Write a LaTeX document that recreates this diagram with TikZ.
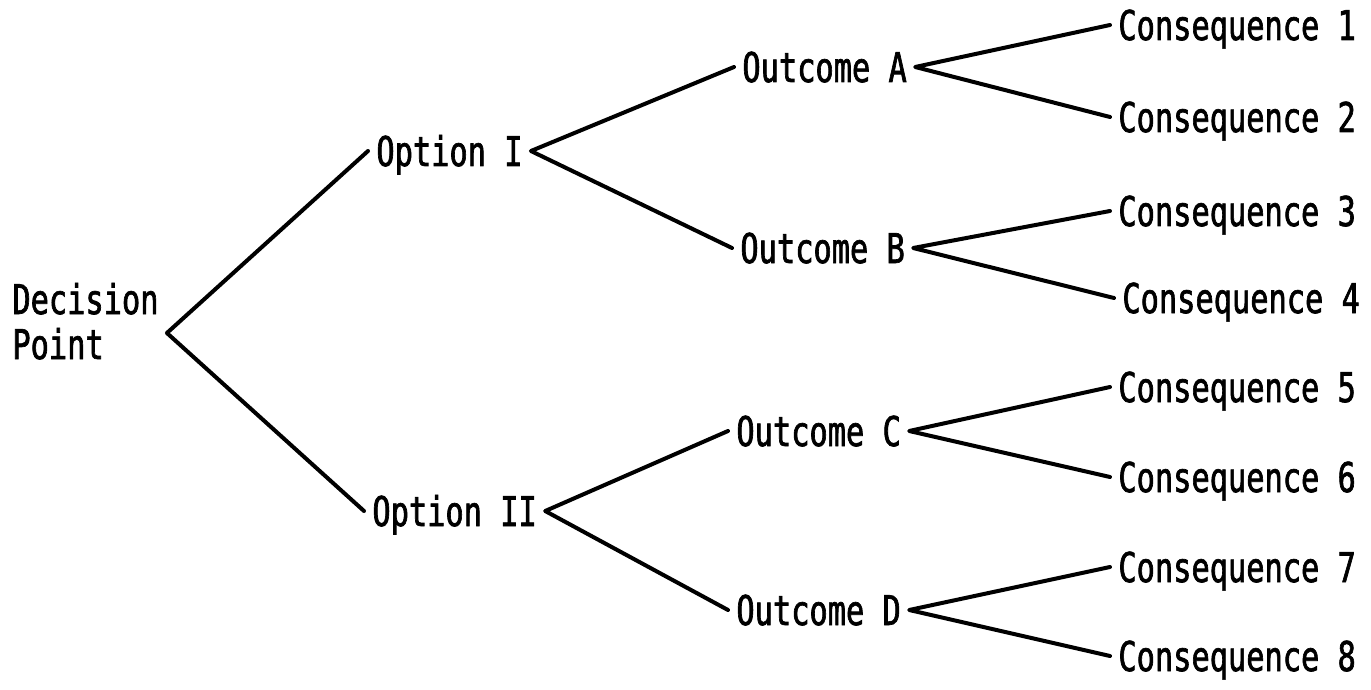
\documentclass[tikz,border=0pt]{standalone}
\usepackage{fontspec}
\newfontfamily\typewriter[FakeStretch=0.74,FakeBold=1.6]{DejaVu Sans Mono}
\begin{document}
\begin{tikzpicture}[x=0.5pt,y=-0.5pt,
  lbl/.style={anchor=west,inner xsep=4pt,inner ysep=0pt,
    font=\typewriter\fontsize{20.5}{22.5}\selectfont,text height=15pt,text depth=0pt},
  branch/.style={draw=black,line width=2pt,line cap=round,line join=round}]
\useasboundingbox (0,0) rectangle (1371,690);
\node[lbl,align=left] (dp) at (4,344) {Decision\\Point};
\node[lbl] (o1) at (368,151) {Option I};
\node[lbl] (o2) at (364,511) {Option II};
\node[lbl] (oa) at (734,67) {Outcome A};
\node[lbl] (ob) at (732,248) {Outcome B};
\node[lbl] (oc) at (728,431) {Outcome C};
\node[lbl] (od) at (728,610) {Outcome D};
\node[lbl] (c1) at (1110,25) {Consequence 1};
\node[lbl] (c2) at (1110,117) {Consequence 2};
\node[lbl] (c3) at (1110,211) {Consequence 3};
\node[lbl] (c4) at (1114,298) {Consequence 4};
\node[lbl] (c5) at (1110,387) {Consequence 5};
\node[lbl] (c6) at (1110,477) {Consequence 6};
\node[lbl] (c7) at (1110,567) {Consequence 7};
\node[lbl] (c8) at (1110,656) {Consequence 8};
\draw[branch] (o1.west) -- ([yshift=5.5pt]dp.east) -- (o2.west);
\draw[branch] (oa.west) -- (o1.east) -- (ob.west);
\draw[branch] (oc.west) -- (o2.east) -- (od.west);
\draw[branch] (c1.west) -- (oa.east) -- (c2.west);
\draw[branch] (c3.west) -- (ob.east) -- (c4.west);
\draw[branch] (c5.west) -- (oc.east) -- (c6.west);
\draw[branch] (c7.west) -- (od.east) -- (c8.west);
\end{tikzpicture}
\end{document}
